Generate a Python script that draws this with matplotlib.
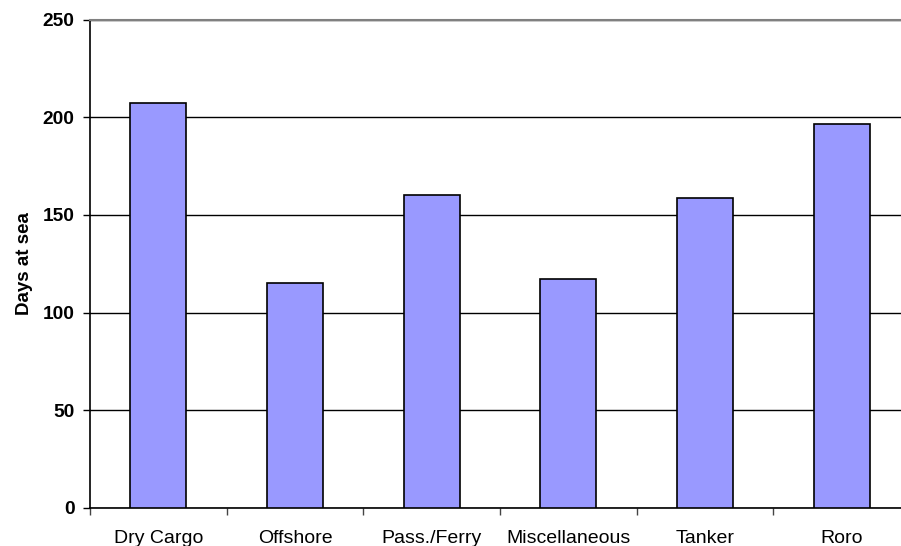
import matplotlib
matplotlib.use("Agg")
import matplotlib.pyplot as plt
import numpy as np

categories = ["Dry Cargo", "Offshore", "Pass./Ferry", "Miscellaneous", "Tanker", "Roro"]
days_at_sea = [207.3, 115.1, 160.2, 117.4, 158.5, 196.4]
y_ticks = [0, 50, 100, 150, 200, 250]

plt.rcParams['font.family'] = ['Liberation Sans', 'DejaVu Sans']

fig = plt.figure(figsize=(9.01, 5.46), dpi=100)
ax = fig.add_axes([90/901, 1-508/546, 820/901, (508-19.5)/546])

x = np.arange(len(categories))
ax.bar(x, days_at_sea, width=0.41, color="#9999FF", edgecolor="black", linewidth=1.2, zorder=3)

ax.set_xlim(-0.5, len(categories) - 0.5)
ax.set_ylim(0, 250)
ax.set_yticks(y_ticks)
ax.set_yticklabels([str(v) for v in y_ticks], fontsize=13.8, fontweight="bold")
ax.yaxis.grid(True, color="black", linewidth=1.0, zorder=0)
ax.set_axisbelow(True)

ax.set_xticks(x)
ax.set_xticklabels(categories, fontsize=14)
ax.tick_params(axis="x", which="major", length=0, pad=16)
ax.set_xticks(np.arange(-0.5, len(categories), 1.0), minor=True)
ax.tick_params(axis="x", which="minor", length=5, width=1, color="#444444", direction="out")
ax.tick_params(axis="y", length=5, width=1, direction="out", pad=6)

ax.set_ylabel("Days at sea", fontsize=13.5, fontweight="bold", labelpad=7)

ax.spines["right"].set_visible(False)
ax.spines["top"].set_color("#808080")
ax.spines["top"].set_linewidth(1.5)
ax.spines["left"].set_color("black")
ax.spines["left"].set_linewidth(1.2)
ax.spines["bottom"].set_color("black")
ax.spines["bottom"].set_linewidth(1.2)

fig.savefig("out.png", dpi=100)
